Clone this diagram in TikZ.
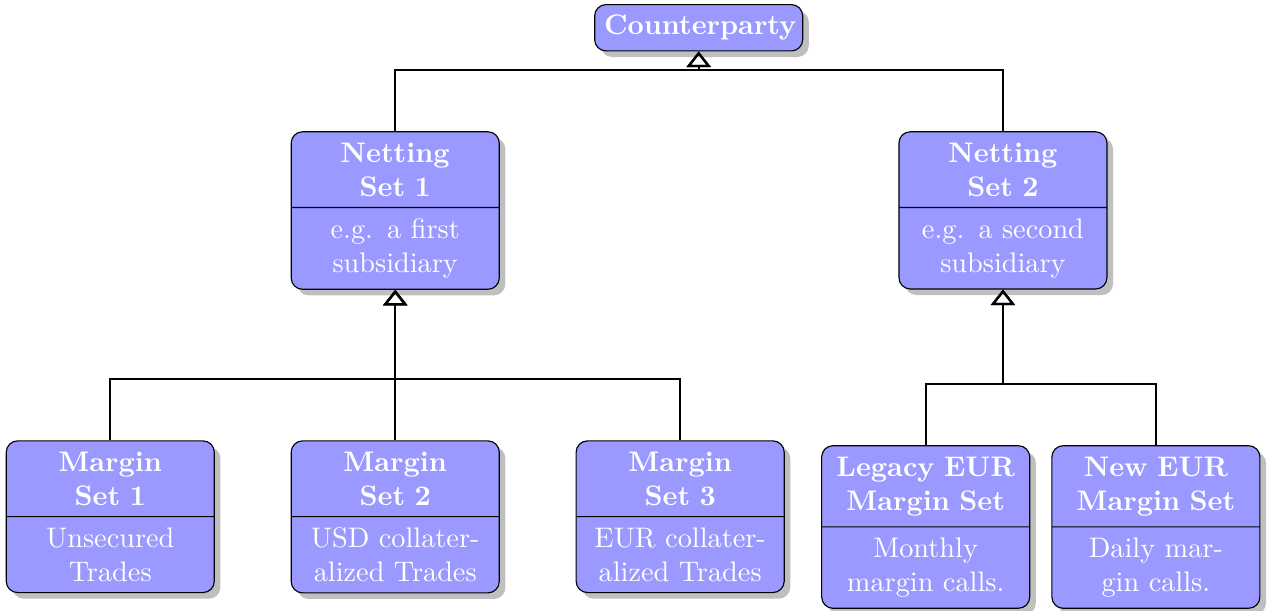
\documentclass[tikz,border=0pt]{standalone}
\usepackage{tikz}
\usetikzlibrary{shapes.multipart}
\usetikzlibrary{shadows}
\usetikzlibrary{arrows.meta}
\usepackage{xcolor}

\colorlet{boxfill}{blue!40}
\colorlet{bodytext}{white}

\begin{document}
\begin{tikzpicture}
        % 样式:圆角矩形,上下两栏,带阴影
        \tikzstyle{cls}=[rectangle, rounded corners=4pt, draw=black, fill=boxfill, drop shadow, text=white, font=\bfseries, text width=2.35cm, align=center, inner ysep=3.7pt, anchor=north]
        \tikzstyle{clssplit}=[cls, rectangle split, rectangle split parts=2]
        \tikzstyle{inherit}=[thick, -{Triangle[open, width=8.5pt, length=5.5pt]}]

        \useasboundingbox (0,0) rectangle (15.79,7.58);

        % 顶层
        \node[cls] (cp) at (8.68,7.53) {Counterparty};

        % 第二层:两个 netting set
        \node[clssplit] (ns1) at (4.91,5.95) {Netting\\Set 1 \nodepart{two}\mdseries\color{bodytext} e.g. a first\\subsidiary};
        \node[clssplit] (ns2) at (12.46,5.95) {Netting\\Set 2 \nodepart{two}\mdseries\color{bodytext} e.g. a second\\subsidiary};

        % 第三层:margin sets
        \foreach \i/\x/\body in {1/1.37/{Unsecured\\Trades}, 2/4.91/{USD collater-\\alized Trades}, 3/8.45/{EUR collater-\\alized Trades}} {
            \node[clssplit] (ms\i) at (\x,2.11) {Margin\\Set \i \nodepart{two}\mdseries\color{bodytext}\body};
        }
        \node[clssplit] (legacy) at (11.50,2.05) {Legacy EUR\\Margin Set \nodepart{two}\mdseries\color{bodytext} Monthly\\margin calls.};
        \node[clssplit] (neweur) at (14.36,2.05) {New EUR\\Margin Set \nodepart{two}\mdseries\color{bodytext} Daily mar-\\gin calls.};

        % 连线:子节点 -> 父节点
        \foreach \c/\p in {ns1/cp, ns2/cp, ms1/ns1, ms2/ns1, ms3/ns1, legacy/ns2, neweur/ns2} {
            \draw[inherit] (\c.north) -- ++(0,0.76) -| (\p.south);
        }
    \end{tikzpicture}
\end{document}
